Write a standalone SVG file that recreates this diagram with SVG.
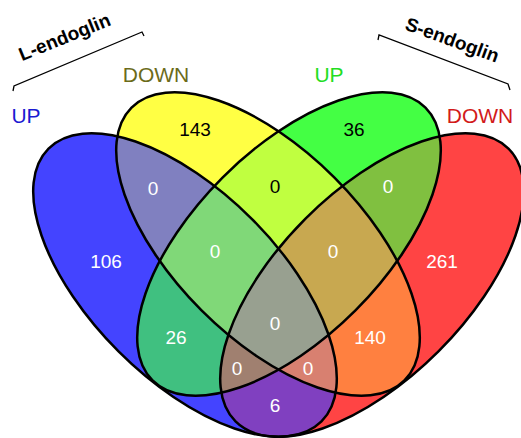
<svg xmlns="http://www.w3.org/2000/svg" width="521" height="438" viewBox="0 0 521 438">
<style>
.num{font-family:"Liberation Sans",Arial,sans-serif;font-size:19px;text-anchor:middle;fill:#fff}
.dark{fill:#000}
.lab{font-family:"Liberation Sans",Arial,sans-serif;font-size:21px;text-anchor:middle}
.title{font-family:"Liberation Sans",Arial,sans-serif;font-size:19px;font-weight:bold;text-anchor:middle;fill:#000}
.edge{fill:none;stroke:#000;stroke-width:2.5}
.brk{fill:none;stroke:#000;stroke-width:1.3}
</style>
<defs>
<ellipse id="eA" cx="185" cy="285" rx="193" ry="94" transform="rotate(45 185 285)"/>
<ellipse id="eB" cx="268" cy="244" rx="193" ry="94" transform="rotate(45 268 244)"/>
<ellipse id="eC" cx="289" cy="244" rx="193" ry="94" transform="rotate(-45 289 244)"/>
<ellipse id="eD" cx="372" cy="285" rx="193" ry="94" transform="rotate(-45 372 285)"/>
<clipPath id="cA"><use href="#eA"/></clipPath>
<clipPath id="cB"><use href="#eB"/></clipPath>
<clipPath id="cC"><use href="#eC"/></clipPath>
<clipPath id="cD"><use href="#eD"/></clipPath>
</defs>
<rect width="521" height="438" fill="#fff"/>
<g id="fills">
<g id="region-A"><use href="#eA" fill="#4444ff"/></g>
<g id="region-B"><use href="#eB" fill="#ffff44"/></g>
<g id="region-C"><use href="#eC" fill="#44ff44"/></g>
<g id="region-D"><use href="#eD" fill="#ff4444"/></g>
<g id="region-AB" clip-path="url(#cB)"><use href="#eA" fill="#8080c0"/></g>
<g id="region-AC" clip-path="url(#cC)"><use href="#eA" fill="#40c080"/></g>
<g id="region-AD" clip-path="url(#cD)"><use href="#eA" fill="#8040c0"/></g>
<g id="region-BC" clip-path="url(#cC)"><use href="#eB" fill="#c0ff40"/></g>
<g id="region-BD" clip-path="url(#cD)"><use href="#eB" fill="#ff8040"/></g>
<g id="region-CD" clip-path="url(#cD)"><use href="#eC" fill="#80c040"/></g>
<g id="region-ABC" clip-path="url(#cB)"><g clip-path="url(#cC)"><use href="#eA" fill="#80d878"/></g></g>
<g id="region-ABD" clip-path="url(#cB)"><g clip-path="url(#cD)"><use href="#eA" fill="#d88070"/></g></g>
<g id="region-ACD" clip-path="url(#cC)"><g clip-path="url(#cD)"><use href="#eA" fill="#a08070"/></g></g>
<g id="region-BCD" clip-path="url(#cC)"><g clip-path="url(#cD)"><use href="#eB" fill="#c8a850"/></g></g>
<g id="region-ABCD" clip-path="url(#cB)"><g clip-path="url(#cC)"><g clip-path="url(#cD)"><use href="#eA" fill="#98a090"/></g></g></g>
</g>
<g id="outlines">
<use href="#eA" class="edge"/>
<use href="#eB" class="edge"/>
<use href="#eC" class="edge"/>
<use href="#eD" class="edge"/>
</g>
<g id="counts">
<text class="num" x="106" y="268">106</text>
<text class="num dark" x="195" y="136">143</text>
<text class="num dark" x="354" y="136">36</text>
<text class="num" x="442" y="268">261</text>
<text class="num" x="153" y="195">0</text>
<text class="num dark" x="275" y="193">0</text>
<text class="num" x="388" y="193">0</text>
<text class="num" x="215" y="258">0</text>
<text class="num" x="333" y="258">0</text>
<text class="num" x="176" y="344">26</text>
<text class="num" x="370" y="344">140</text>
<text class="num" x="275" y="330">0</text>
<text class="num" x="237" y="375">0</text>
<text class="num" x="308" y="375">0</text>
<text class="num" x="275" y="412">6</text>
</g>
<g id="set-labels">
<text class="lab" x="26" y="123" fill="#1a1ad2">UP</text>
<text class="lab" x="156" y="82" fill="#6b6b1a">DOWN</text>
<text class="lab" x="329" y="82" fill="#22dd22">UP</text>
<text class="lab" x="480" y="123" fill="#d21a1a">DOWN</text>
</g>
<g id="L-endoglin">
<polyline class="brk" points="13,91 14,86 142,32 144,36"/>
<text class="title" x="67" y="43" transform="rotate(-22 67 43)">L-endoglin</text>
</g>
<g id="S-endoglin">
<polyline class="brk" points="378,40 379,35 508,84 510,90"/>
<text class="title" x="450" y="46" transform="rotate(20 450 46)">S-endoglin</text>
</g>
</svg>
